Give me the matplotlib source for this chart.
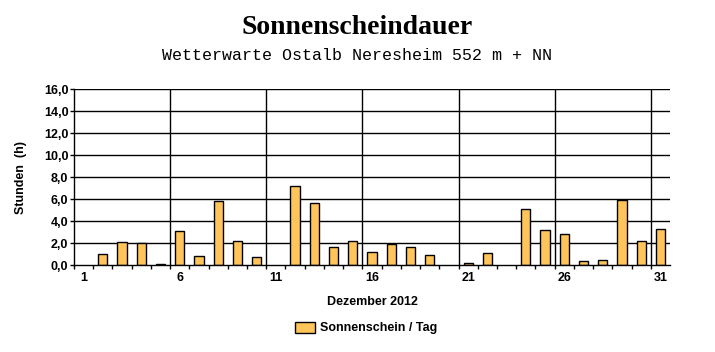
import matplotlib
matplotlib.use("Agg")
import matplotlib.pyplot as plt
import numpy as np
from matplotlib.patches import Patch

days = list(range(1, 32))
sunshine = [0.0, 1.0, 2.1, 2.0, 0.1, 3.1, 0.8, 5.8, 2.2, 0.7,
            0.0, 7.2, 5.6, 1.6, 2.2, 1.2, 1.9, 1.6, 0.9, 0.0,
            0.2, 1.1, 0.0, 5.1, 3.2, 2.8, 0.4, 0.5, 5.9, 2.2, 3.3]
ytick_vals = [0, 2, 4, 6, 8, 10, 12, 14, 16]
ytick_labels = ["0,0", "2,0", "4,0", "6,0", "8,0", "10,0", "12,0", "14,0", "16,0"]
xtick_days = [1, 6, 11, 16, 21, 26, 31]

title = "Sonnenscheindauer"
subtitle = "Wetterwarte Ostalb Neresheim 552 m + NN"
xlabel = "Dezember 2012"
ylabel = "Stunden  (h)"
legend_label = "Sonnenschein / Tag"

W, H = 715, 352
fig = plt.figure(figsize=(W / 100, H / 100), dpi=100)
fig.patch.set_facecolor("white")
ax = fig.add_axes([74 / W, (H - 265) / H, (670 - 74) / W, (265 - 89) / H])

bar_color = "#FFC45A"
x = np.array(days) + 0.5
edge = ["black" if v > 0 else "none" for v in sunshine]
ax.bar(x, sunshine, width=0.48, color=bar_color, edgecolor=edge, linewidth=1.0, zorder=3)

ax.set_xlim(1, 32)
ax.set_ylim(0, 16)

# gridlines
for v in ytick_vals[1:]:
    ax.axhline(v, color="black", linewidth=1.0, zorder=1)
for d in xtick_days[1:]:
    ax.axvline(d, color="black", linewidth=1.0, zorder=1)

for s in ["top", "right"]:
    ax.spines[s].set_visible(False)
ax.spines["left"].set_linewidth(1.0)
ax.spines["bottom"].set_linewidth(1.0)
ax.spines["bottom"].set_zorder(4)

ax.set_yticks(ytick_vals)
ax.set_yticklabels(ytick_labels, fontfamily="Liberation Sans", fontweight="bold", fontsize=9)
ax.tick_params(axis="y", length=3, width=1, pad=1)

ax.set_xticks(days, minor=True)
ax.set_xticks([d + 0.5 for d in xtick_days])
ax.set_xticklabels([str(d) for d in xtick_days], fontfamily="Liberation Sans", fontweight="bold", fontsize=9)
ax.tick_params(axis="x", which="major", length=0, pad=5)
ax.tick_params(axis="x", which="minor", length=3, width=1, direction="out")

ax.set_ylabel(ylabel, fontfamily="Liberation Sans", fontweight="bold", fontsize=9, labelpad=12)

fig.text(357 / W, 1 - 27 / H, title, ha="center", va="center",
         fontfamily="Liberation Serif", fontweight="bold", fontsize=20)
fig.text(357 / W, 1 - 55 / H, subtitle, ha="center", va="center",
         fontfamily="Liberation Mono", fontsize=12)
fig.text(372 / W, 1 - 302 / H, xlabel, ha="center", va="center",
         fontfamily="Liberation Sans", fontweight="bold", fontsize=9)

handle = Patch(facecolor=bar_color, edgecolor="black", linewidth=1.0)
fig.legend([handle], [legend_label], loc="center", bbox_to_anchor=(366 / W, 1 - 328 / H),
           frameon=False, prop={"family": "Liberation Sans", "weight": "bold", "size": 9},
           handlelength=1.6, handleheight=1.0, handletextpad=0.4)

fig.savefig("out.png", dpi=100, facecolor="white")
